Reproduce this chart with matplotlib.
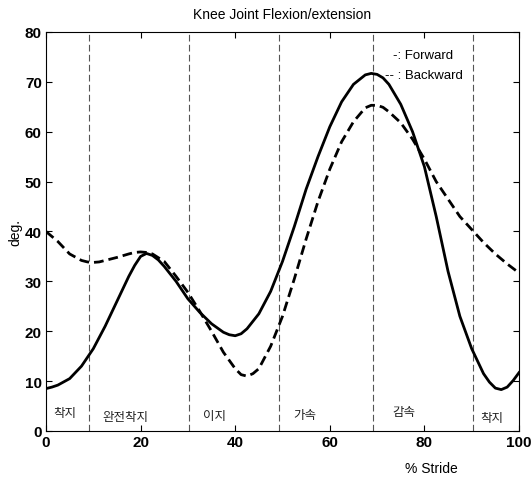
import matplotlib
matplotlib.use("Agg")
import matplotlib.pyplot as plt

plt.rcParams['font.family'] = ['Liberation Sans', 'Noto Sans CJK KR', 'DejaVu Sans']

fwd_x = [0, 1.25, 2.5, 5, 7.5, 10, 12.5, 15, 17.5, 18.75, 20, 21.25, 22.5, 23.75, 25, 27.5,
         30, 32.5, 35, 37.5, 38.75, 40, 41.25, 42.5, 45, 47.5, 50, 52.5, 55, 57.5, 60,
         62.5, 65, 67.5, 68.75, 70, 71.25, 72.5, 75, 77.5, 80, 82.5, 85, 87.5, 90,
         92.5, 93.75, 95, 96.25, 97.5, 98.75, 100]
forward = [8.5, 8.8, 9.2, 10.5, 13, 16.5, 21, 26, 31, 33.2, 35, 35.6, 35.2, 34.3, 33, 30,
           26.5, 23.8, 21.5, 19.8, 19.3, 19.1, 19.5, 20.5, 23.5, 28, 34, 41, 48.5, 55, 61,
           66, 69.5, 71.4, 71.7, 71.5, 70.8, 69.5, 65.5, 60, 53, 43, 32, 23, 16.5,
           11.5, 9.8, 8.6, 8.3, 8.8, 10.1, 11.7]

bwd_x = [0, 2.5, 5, 7.5, 8.75, 10, 11.25, 12.5, 15, 17.5, 18.75, 20, 21.25, 22.5, 25, 27.5,
         30, 32.5, 35, 37.5, 40, 41.25, 42.5, 43.75, 45, 47.5, 50, 52.5, 55, 57.5, 60,
         62.5, 65, 67.5, 68.75, 70, 71.25, 72.5, 75, 77.5, 80, 82.5, 85, 87.5, 90,
         92.5, 95, 97.5, 100]
backward = [40, 38, 35.5, 34.2, 33.9, 33.8, 33.9, 34.2, 34.8, 35.5, 35.8, 35.9, 35.8, 35.5, 34, 31,
            27.8, 24, 20, 15.8, 12.5, 11.3, 11, 11.5, 12.5, 17, 23, 30.5, 38.5, 46, 52.5,
            58, 62, 64.8, 65.3, 65.3, 64.9, 64, 61.8, 58.5, 54.5, 50, 46.5, 43, 40.4,
            37.8, 35.5, 33.5, 31.7]

phase_bounds = [9.1, 30.2, 49.3, 69.1, 90.3]
phase_labels = ['착지', '완전착지', '이지', '가속', '감속', '착지']
phase_label_x = [1.5, 12.0, 33.2, 52.2, 73.2, 91.8]
phase_label_y = [3.8, 2.9, 3.1, 3.4, 4.0, 2.8]

xticks = [0, 20, 40, 60, 80, 100]
yticks = [0, 10, 20, 30, 40, 50, 60, 70, 80]

fig = plt.figure(figsize=(5.32, 4.81), dpi=100)
ax = fig.add_axes([46/532, 49/481, 473/532, 399/481])

for b in phase_bounds:
    ax.axvline(b, color='#555555', lw=0.8, ls=(0, (6, 3)), zorder=1)

ax.plot(fwd_x, forward, color='black', lw=2.0, zorder=3, solid_joinstyle='round')
ax.plot(bwd_x, backward, color='black', lw=2.0, ls=(0, (3.5, 1.8)), zorder=3)

for lab, x, y in zip(phase_labels, phase_label_x, phase_label_y):
    ax.text(x, y, lab, fontsize=9, family=['Noto Sans CJK KR', 'DejaVu Sans'],
            ha='left', va='center', color='#222222')

ax.text(0.733, 0.942, '-: Forward', transform=ax.transAxes, fontsize=9.5, ha='left', va='center')
ax.text(0.716, 0.893, '-- : Backward', transform=ax.transAxes, fontsize=9.5, ha='left', va='center')

ax.set_xlim(0, 100)
ax.set_ylim(0, 80)
ax.set_xticks(xticks)
ax.set_yticks(yticks)
ax.tick_params(direction='in', top=True, right=True, length=4, width=0.8,
               labelsize=11, pad=3)
for lab in ax.get_xticklabels() + ax.get_yticklabels():
    lab.set_fontweight('bold')
for s in ax.spines.values():
    s.set_linewidth(0.8)

ax.set_title('Knee Joint Flexion/extension', fontsize=10, pad=10)
ax.set_xlabel('% Stride', fontsize=10)
ax.xaxis.set_label_coords(0.815, -0.075)
ax.set_ylabel('deg.', fontsize=10, labelpad=2)

fig.savefig('out.png', dpi=100)
